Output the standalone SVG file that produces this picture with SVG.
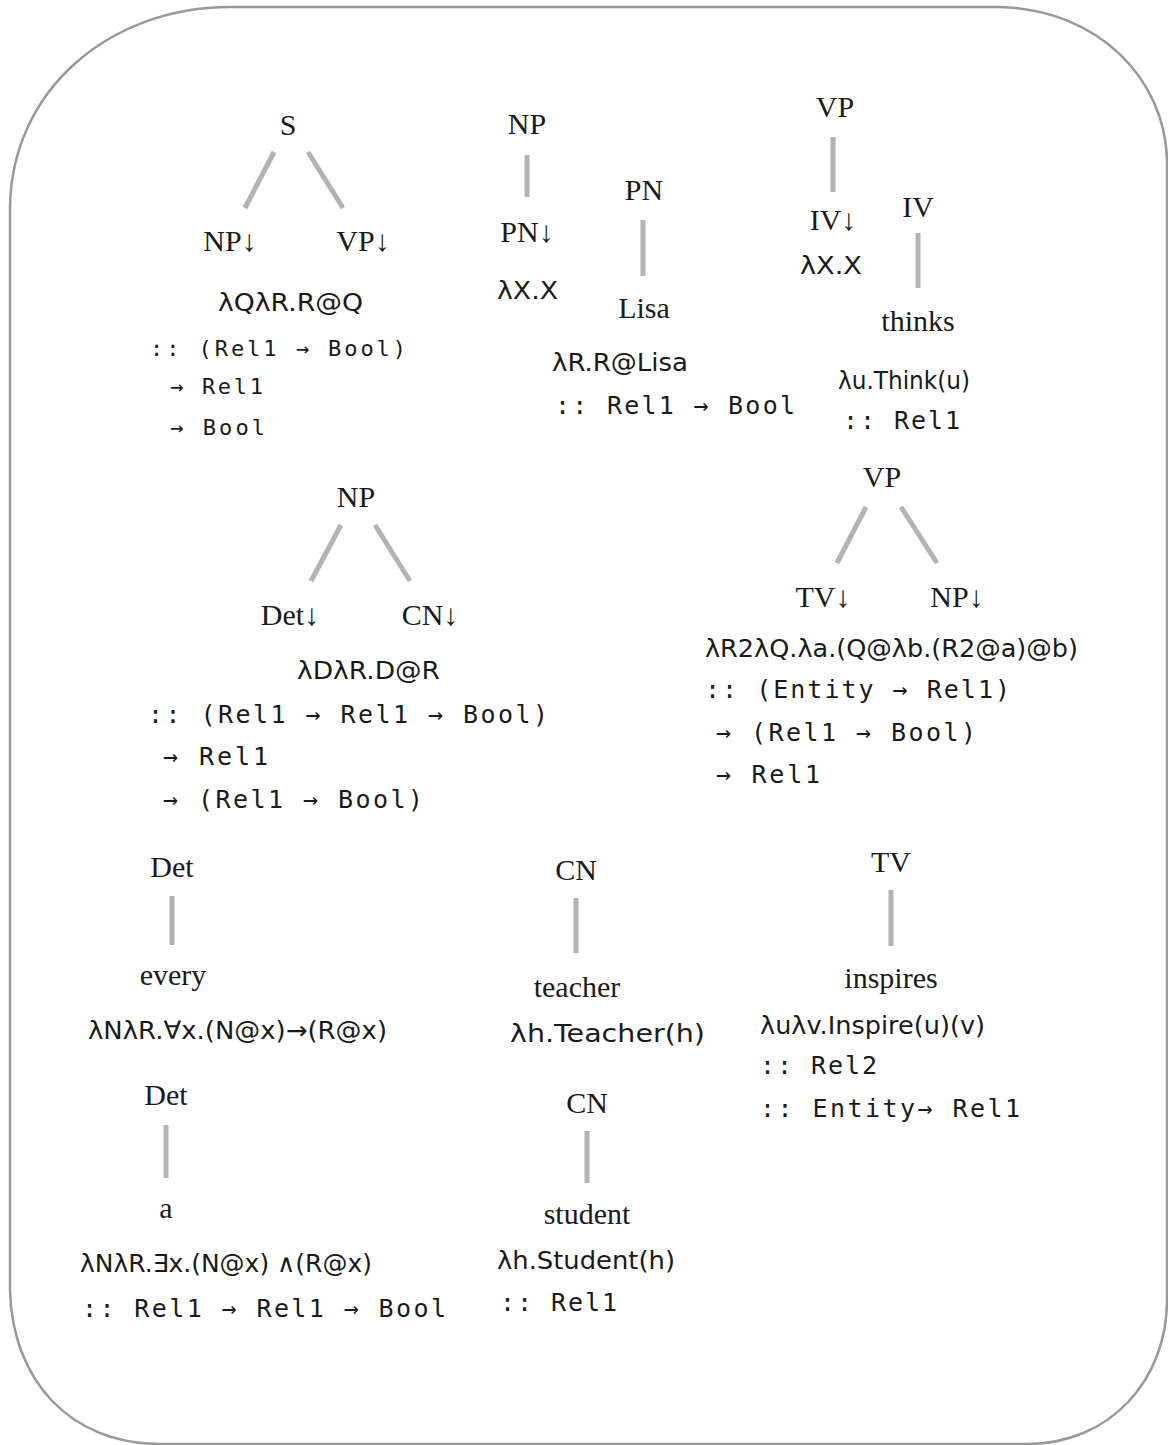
<svg xmlns="http://www.w3.org/2000/svg" width="1168" height="1445" viewBox="0 0 1168 1445">
<style>
.lbl{font-family:"Liberation Serif","Times New Roman",serif;font-size:30px;fill:#1a1a1a;text-anchor:middle}
.lam{font-family:"DejaVu Sans","Liberation Sans",sans-serif;font-size:25px;fill:#1a1a1a}
.typ{font-family:"DejaVu Sans Mono","Liberation Mono",monospace;font-size:25px;fill:#1a1a1a}
.t1{font-size:22px}
.edge{stroke:#b3b3b3;stroke-width:5;fill:none}
</style>
<rect width="1168" height="1445" fill="#ffffff"/>
<path id="frame" d="M 230 7 H 1000 C 1100 10 1165 80 1167 160 V 1300 C 1167 1380 1110 1444 1027 1444 H 160 C 70 1444 12 1380 10 1290 V 210 C 10 90 110 7 230 7 Z" fill="none" stroke="#999999" stroke-width="2.5"/>

<g id="connectors" class="edge">
  <line x1="274" y1="152" x2="245" y2="208"/>
  <line x1="308" y1="152" x2="343" y2="208"/>
  <line x1="527" y1="155" x2="527" y2="197"/>
  <line x1="643" y1="220" x2="643" y2="276"/>
  <line x1="833" y1="137" x2="833" y2="192"/>
  <line x1="918" y1="233" x2="918" y2="288"/>
  <line x1="341" y1="525" x2="311" y2="581"/>
  <line x1="375" y1="525" x2="410" y2="581"/>
  <line x1="866" y1="507" x2="837" y2="563"/>
  <line x1="901" y1="507" x2="937" y2="563"/>
  <line x1="172" y1="896" x2="172" y2="945"/>
  <line x1="166" y1="1125" x2="166" y2="1178"/>
  <line x1="576" y1="898" x2="576" y2="953"/>
  <line x1="587" y1="1131" x2="587" y2="1183"/>
  <line x1="891" y1="890" x2="891" y2="946"/>
</g>

<g id="tree-S">
  <text class="lbl" x="288" y="135">S</text>
  <text class="lbl" x="230" y="251">NP↓</text>
  <text class="lbl" x="363" y="251">VP↓</text>
  <text class="lam" x="218" y="311" textLength="145" lengthAdjust="spacingAndGlyphs">λQλR.R@Q</text>
  <text class="typ t1" x="150" y="356" textLength="256" lengthAdjust="spacing">:: (Rel1 → Bool)</text>
  <text class="typ t1" x="170" y="394" textLength="93" lengthAdjust="spacing">→ Rel1</text>
  <text class="typ t1" x="170" y="435" textLength="95" lengthAdjust="spacing">→ Bool</text>
</g>

<g id="tree-NP-PN">
  <text class="lbl" x="527" y="134">NP</text>
  <text class="lbl" x="527" y="242">PN↓</text>
  <text class="lam" x="497" y="299" textLength="61" lengthAdjust="spacingAndGlyphs">λX.X</text>
</g>

<g id="tree-PN-Lisa">
  <text class="lbl" x="644" y="200">PN</text>
  <text class="lbl" x="644" y="318">Lisa</text>
  <text class="lam" x="552" y="371" textLength="136" lengthAdjust="spacingAndGlyphs">λR.R@Lisa</text>
  <text class="typ" x="555" y="414" textLength="240" lengthAdjust="spacing">:: Rel1 → Bool</text>
</g>

<g id="tree-VP-IV">
  <text class="lbl" x="835" y="117">VP</text>
  <text class="lbl" x="833" y="230">IV↓</text>
  <text class="lam" x="800" y="274" textLength="62" lengthAdjust="spacingAndGlyphs">λX.X</text>
</g>

<g id="tree-IV-thinks">
  <text class="lbl" x="918" y="217">IV</text>
  <text class="lbl" x="918" y="331">thinks</text>
  <text class="lam" x="838" y="389" textLength="132" lengthAdjust="spacingAndGlyphs">λu.Think(u)</text>
  <text class="typ" x="843" y="429" textLength="117" lengthAdjust="spacing">:: Rel1</text>
</g>

<g id="tree-NP-Det-CN">
  <text class="lbl" x="356" y="507">NP</text>
  <text class="lbl" x="290" y="625">Det↓</text>
  <text class="lbl" x="430" y="625">CN↓</text>
  <text class="lam" x="297" y="679" textLength="143" lengthAdjust="spacingAndGlyphs">λDλR.D@R</text>
  <text class="typ" x="148" y="723" textLength="400" lengthAdjust="spacing">:: (Rel1 → Rel1 → Bool)</text>
  <text class="typ" x="163" y="765" textLength="105" lengthAdjust="spacing">→ Rel1</text>
  <text class="typ" x="163" y="808" textLength="260" lengthAdjust="spacing">→ (Rel1 → Bool)</text>
</g>

<g id="tree-VP-TV-NP">
  <text class="lbl" x="882" y="487">VP</text>
  <text class="lbl" x="823" y="607">TV↓</text>
  <text class="lbl" x="957" y="607">NP↓</text>
  <text class="lam" x="705" y="657" textLength="373" lengthAdjust="spacingAndGlyphs">λR2λQ.λa.(Q@λb.(R2@a)@b)</text>
  <text class="typ" x="705" y="698" textLength="305" lengthAdjust="spacing">:: (Entity → Rel1)</text>
  <text class="typ" x="716" y="741" textLength="260" lengthAdjust="spacing">→ (Rel1 → Bool)</text>
  <text class="typ" x="716" y="783" textLength="104" lengthAdjust="spacing">→ Rel1</text>
</g>

<g id="tree-Det-every">
  <text class="lbl" x="172" y="877">Det</text>
  <text class="lbl" x="173" y="985">every</text>
  <text class="lam" x="88" y="1039" textLength="299" lengthAdjust="spacingAndGlyphs">λNλR.∀x.(N@x)→(R@x)</text>
</g>

<g id="tree-Det-a">
  <text class="lbl" x="166" y="1105">Det</text>
  <text class="lbl" x="166" y="1218">a</text>
  <text class="lam" x="80" y="1272" textLength="292" lengthAdjust="spacingAndGlyphs">λNλR.∃x.(N@x) ∧(R@x)</text>
  <text class="typ" x="82" y="1317" textLength="364" lengthAdjust="spacing">:: Rel1 → Rel1 → Bool</text>
</g>

<g id="tree-CN-teacher">
  <text class="lbl" x="576" y="880">CN</text>
  <text class="lbl" x="577" y="997">teacher</text>
  <text class="lam" x="510" y="1042" textLength="195" lengthAdjust="spacingAndGlyphs">λh.Teacher(h)</text>
</g>

<g id="tree-CN-student">
  <text class="lbl" x="587" y="1113">CN</text>
  <text class="lbl" x="587" y="1224">student</text>
  <text class="lam" x="497" y="1269" textLength="178" lengthAdjust="spacingAndGlyphs">λh.Student(h)</text>
  <text class="typ" x="500" y="1311" textLength="117" lengthAdjust="spacing">:: Rel1</text>
</g>

<g id="tree-TV-inspires">
  <text class="lbl" x="891" y="872">TV</text>
  <text class="lbl" x="891" y="988">inspires</text>
  <text class="lam" x="760" y="1034" textLength="225" lengthAdjust="spacingAndGlyphs">λuλv.Inspire(u)(v)</text>
  <text class="typ" x="760" y="1074" textLength="117" lengthAdjust="spacing">:: Rel2</text>
  <text class="typ" x="760" y="1117" textLength="260" lengthAdjust="spacing">:: Entity→ Rel1</text>
</g>
</svg>
